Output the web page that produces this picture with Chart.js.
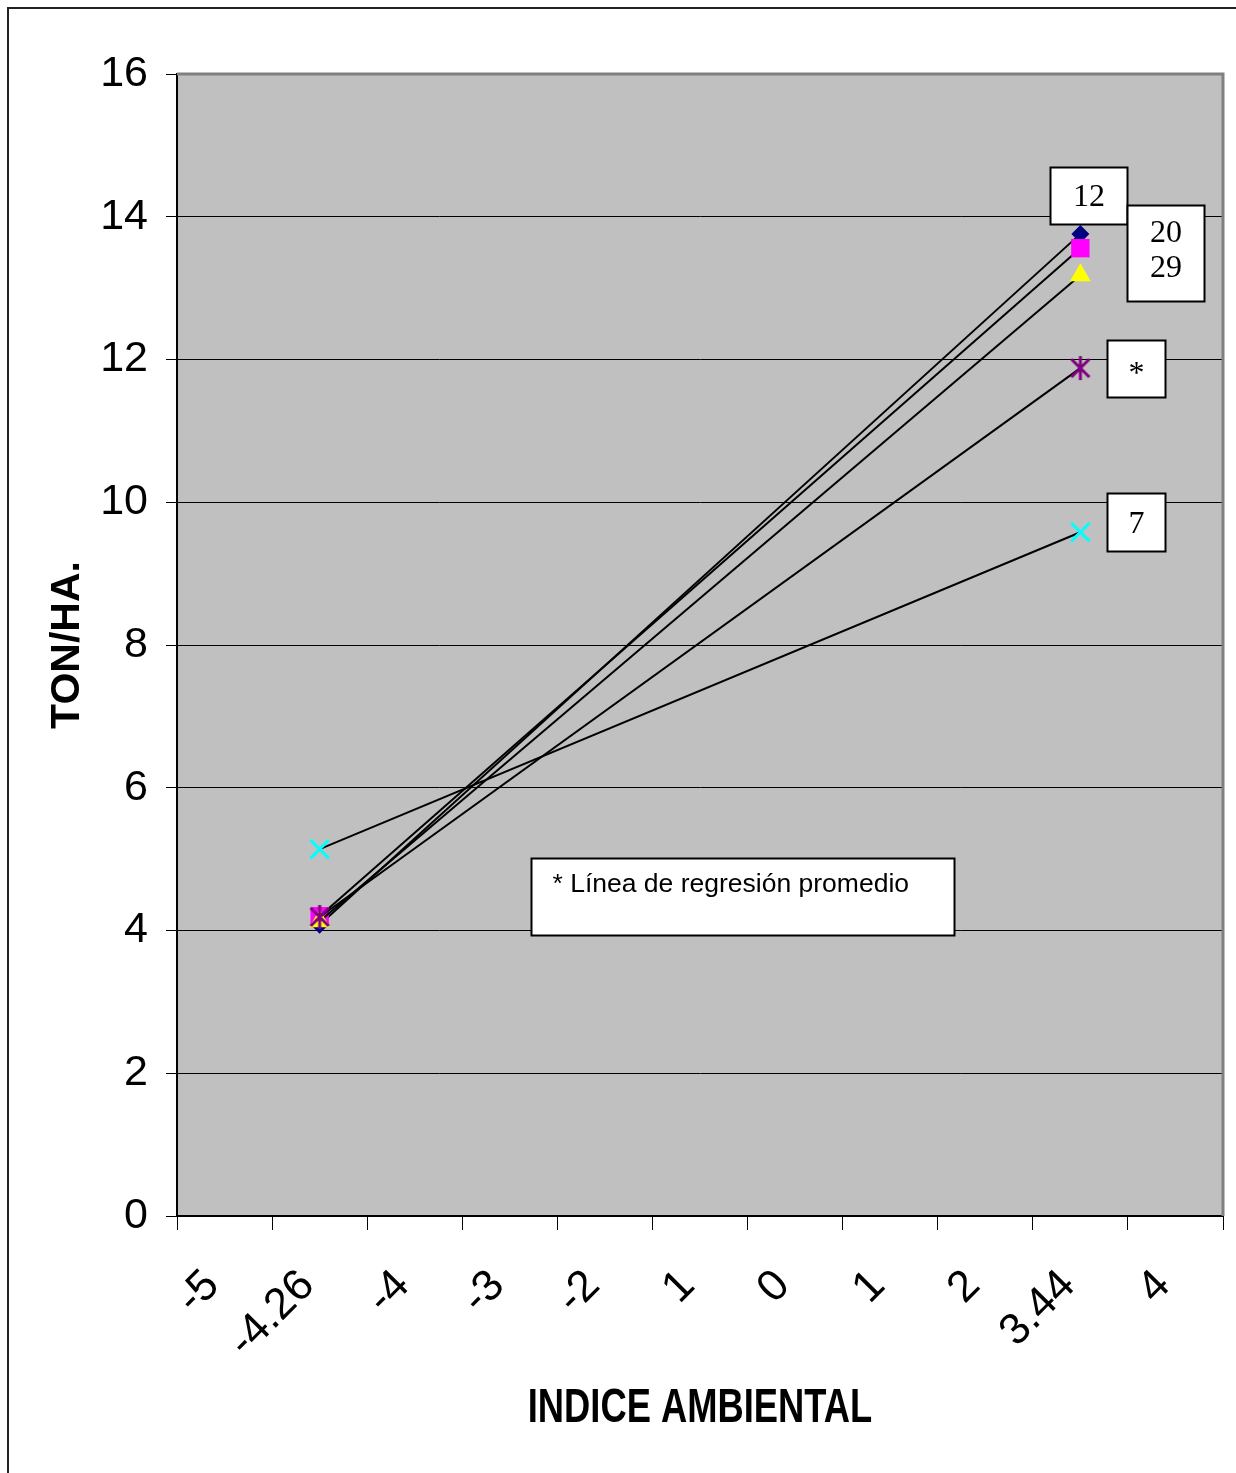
<!DOCTYPE html>
<html>
<head>
<meta charset="utf-8">
<script src="https://cdn.jsdelivr.net/npm/chart.js@4/dist/chart.umd.min.js"></script>
<style>
  html, body { margin: 0; padding: 0; background: #fff; }
  #wrap { width: 1236px; height: 1473px; }
</style>
</head>
<body>
<div id="wrap"><canvas id="my-chart" width="1236" height="1473"></canvas></div>
<script>
// category labels of the x axis, as printed
const categories = ['-5', '-4.26', '-4', '-3', '-2', '1', '0', '1', '2', '3.44', '4'];
// the two environments where each line was measured
const envIndex = ['-4.26', '3.44'];

// ton/ha at each environment
const serie12 = [4.08, 13.76];
const serie20 = [4.20, 13.56];
const serie29 = [4.13, 13.18];
const promedio = [4.19, 11.88];
const serie7 = [5.14, 9.58];

const yMin = 0;
const yMax = 16;
const yStep = 2;

const xTitle = 'INDICE AMBIENTAL';

// text boxes, placed in axis units (category index, ton/ha)
const boxes = [
  { lines: ['12'], x: [8.68, 9.49], y: [14.70, 13.90] },
  { lines: ['20', '29'], x: [9.49, 10.30], y: [14.16, 12.82] },
  { lines: ['*'], x: [9.28, 9.89], y: [12.27, 11.47] },
  { lines: ['7'], x: [9.28, 9.89], y: [10.13, 9.32] }
];
const noteBox = { text: '* Línea de regresión promedio', x: [3.22, 7.67], y: [5.02, 3.94] };

const sans = '"Liberation Sans", Arial, sans-serif';
const serif = '"Liberation Serif", "Times New Roman", serif';

const asterisk = document.createElement('canvas');
asterisk.width = 24;
asterisk.height = 26;
(() => {
  const c = asterisk.getContext('2d');
  c.strokeStyle = '#800080';
  c.lineWidth = 3;
  c.beginPath();
  c.moveTo(3, 4); c.lineTo(21, 22);
  c.moveTo(21, 4); c.lineTo(3, 22);
  c.moveTo(12, 1); c.lineTo(12, 25);
  c.stroke();
})();

const toPoints = values => envIndex.map((x, i) => ({ x: x, y: values[i] }));

const series = (values, style, color, radius, order) => ({
  data: toPoints(values),
  showLine: true,
  borderColor: '#000',
  borderWidth: 2,
  tension: 0,
  fill: false,
  pointStyle: style,
  pointRadius: radius,
  pointHoverRadius: radius,
  pointBackgroundColor: color,
  pointBorderColor: color,
  pointBorderWidth: style === 'crossRot' ? 3 : 0,
  order: order
});

const framePlugin = {
  id: 'frame',
  beforeDraw(chart) {
    const { ctx, chartArea: a } = chart;
    ctx.save();
    ctx.fillStyle = '#fff';
    ctx.fillRect(0, 0, chart.width, chart.height);
    ctx.strokeStyle = '#222';
    ctx.lineWidth = 2;
    ctx.beginPath();
    ctx.moveTo(8, chart.height);
    ctx.lineTo(8, 8);
    ctx.lineTo(chart.width, 8);
    ctx.stroke();
    ctx.fillStyle = '#c0c0c0';
    ctx.fillRect(a.left, a.top, a.right - a.left, a.bottom - a.top);
    ctx.restore();
  },
  beforeDatasetsDraw(chart) {
    const { ctx, chartArea: a } = chart;
    ctx.save();
    ctx.strokeStyle = '#808080';
    ctx.lineWidth = 3;
    ctx.beginPath();
    ctx.moveTo(a.left, a.top);
    ctx.lineTo(a.right, a.top);
    ctx.lineTo(a.right, a.bottom);
    ctx.stroke();
    ctx.restore();
  },
  afterDatasetsDraw(chart) {
    const { ctx, chartArea: a } = chart;
    const xs = chart.scales.x;
    const ys = chart.scales.y;
    const rect = b => {
      const l = Math.round(xs.getPixelForValue(b.x[0])) + 0.5;
      const r = Math.round(xs.getPixelForValue(b.x[1])) + 0.5;
      const t = Math.round(ys.getPixelForValue(b.y[0])) + 0.5;
      const btm = Math.round(ys.getPixelForValue(b.y[1])) + 0.5;
      ctx.fillStyle = '#fff';
      ctx.fillRect(l, t, r - l, btm - t);
      ctx.strokeStyle = '#000';
      ctx.lineWidth = 2;
      ctx.strokeRect(l, t, r - l, btm - t);
      return { l, r, t, btm };
    };
    ctx.save();
    boxes.forEach(b => {
      const p = rect(b);
      ctx.fillStyle = '#000';
      ctx.font = '32px ' + serif;
      ctx.textAlign = 'center';
      ctx.textBaseline = 'middle';
      const cx = (p.l + p.r) / 2;
      const cy = (p.t + p.btm) / 2;
      const step = 35;
      b.lines.forEach((txt, i) => {
        const off = (i - (b.lines.length - 1) / 2) * step - (b.lines.length > 1 ? 4 : 0);
        ctx.fillText(txt, cx, cy + off + (txt === '*' ? 6 : 2));
      });
    });
    const p = rect(noteBox);
    ctx.fillStyle = '#000';
    ctx.font = '26.5px ' + sans;
    ctx.textAlign = 'left';
    ctx.textBaseline = 'middle';
    ctx.fillText(noteBox.text, p.l + 21, p.t + 26);

    // condensed axis title under the x axis
    ctx.font = 'bold 46px ' + sans;
    ctx.textAlign = 'center';
    ctx.textBaseline = 'middle';
    ctx.translate((a.left + a.right) / 2, 1409);
    ctx.scale(0.79, 1.05);
    ctx.fillText(xTitle, 0, 0);
    ctx.restore();
  }
};

const init = () => {
  const ctx = document.getElementById('my-chart');
  const myChart = new Chart(ctx, {
    type: 'line',
    data: {
      datasets: [
        series(serie12, 'rectRot', '#000080', 9, 5),
        series(serie20, 'rect', '#ff00ff', 13, 4),
        series(serie29, 'triangle', '#ffff00', 12, 3),
        series(promedio, asterisk, '#800080', 12, 2),
        series(serie7, 'crossRot', '#00ffff', 13, 1)
      ]
    },
    options: {
      responsive: false,
      animation: false,
      events: [],
      layout: { autoPadding: false, padding: { left: 0, top: 74, right: 13, bottom: 0 } },
      plugins: {
        legend: { display: false },
        tooltip: { enabled: false }
      },
      scales: {
        x: {
          type: 'category',
          labels: categories,
          offset: true,
          grid: { offset: true, drawOnChartArea: false, tickLength: 14, color: '#000', lineWidth: 1 },
          border: { color: '#000', width: 2 },
          ticks: {
            autoSkip: false,
            maxRotation: 45,
            minRotation: 45,
            padding: 30,
            labelOffset: -12,
            color: '#000',
            font: { family: sans, size: 44 }
          },
          title: { display: false, text: xTitle },
          afterFit: s => {
            s.height = 257;
            s.paddingLeft = 0;
            s.paddingRight = 0;
          }
        },
        y: {
          min: yMin,
          max: yMax,
          grid: {
            color: c => (c.tick && c.tick.value === yMax ? 'rgba(0,0,0,0)' : '#000'),
            tickColor: '#000',
            tickLength: 11,
            lineWidth: 1
          },
          border: { color: '#000', width: 2 },
          ticks: {
            stepSize: yStep,
            padding: 18,
            color: '#000',
            font: { family: sans, size: 43 }
          },
          title: {
            display: true,
            text: 'TON/HA.',
            color: '#000',
            font: { family: sans, size: 41, weight: 'bold' },
            padding: { top: 43, bottom: 0 }
          },
          afterFit: s => { s.width = 177; }
        }
      }
    },
    plugins: [framePlugin]
  });
};

init();
</script>
</body>
</html>
